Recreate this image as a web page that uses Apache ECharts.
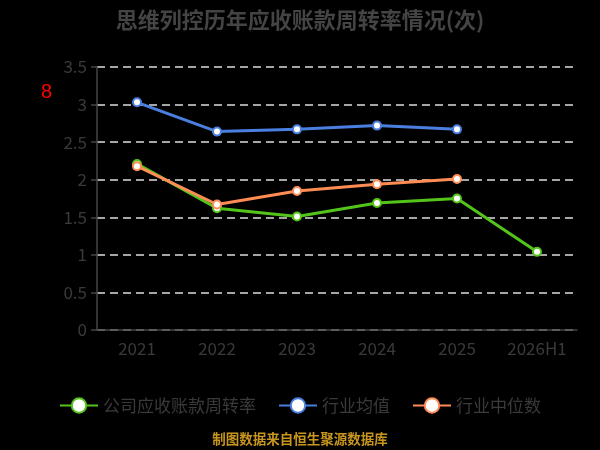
<!DOCTYPE html>
<html>
<head>
<meta charset="utf-8">
<script src="https://cdn.jsdelivr.net/npm/echarts@6/dist/echarts.min.js"></script>
<style>
  html, body { margin: 0; padding: 0; background: #000; }
  #main { width: 600px; height: 450px; }
</style>
</head>
<body>
<div id="main"></div>
<script>
// 数据
var years = ['2021', '2022', '2023', '2024', '2025', '2026H1'];
var companyRate = [2.21, 1.62, 1.51, 1.69, 1.75, 1.04];
var industryAvg = [3.03, 2.64, 2.67, 2.72, 2.67];
var industryMedian = [2.18, 1.67, 1.85, 1.94, 2.01];
var yTicks = [0, 0.5, 1, 1.5, 2, 2.5, 3, 3.5];

var chart = echarts.init(document.getElementById('main'));

var font = '"Noto Sans CJK SC", "Noto Sans", sans-serif';

function lineSeries(name, data, color) {
    return {
        name: name,
        type: 'line',
        data: data,
        symbol: 'circle',
        symbolSize: 8,
        lineStyle: { color: color, width: 3 },
        itemStyle: { color: '#fff', borderColor: color, borderWidth: 2 }
    };
}

var option = {
    backgroundColor: '#000',
    textStyle: { fontFamily: font },
    title: {
        text: '思维列控历年应收账款周转率情况(次)',
        left: 'center',
        top: 4,
        textStyle: { color: '#444', fontSize: 22, fontWeight: 'bold', fontFamily: font }
    },
    graphic: [
        {
            type: 'text',
            left: 41,
            top: 82,
            style: { text: '8', fill: '#f00', font: '20px sans-serif' }
        },
        {
            type: 'text',
            left: 'center',
            top: 432,
            style: { text: '制图数据来自恒生聚源数据库', fill: '#c8961e', font: 'bold 13.5px "Noto Sans CJK SC"' }
        }
    ],
    legend: {
        top: 392,
        left: 'center',
        itemWidth: 38,
        itemHeight: 18,
        itemGap: 22,
        textStyle: { color: '#3a3a3a', fontSize: 17, fontFamily: font },
        data: ['公司应收账款周转率', '行业均值', '行业中位数']
    },
    grid: { left: 97, right: 23, top: 67, bottom: 120 },
    xAxis: {
        type: 'category',
        data: years,
        axisLine: { lineStyle: { color: '#444', width: 1.5 } },
        axisTick: { lineStyle: { color: '#444', width: 1.5 }, length: 6 },
        axisLabel: { color: '#3a3a3a', fontSize: 17, margin: 10 }
    },
    yAxis: {
        type: 'value',
        min: yTicks[0],
        max: yTicks[yTicks.length - 1],
        interval: 0.5,
        axisLine: { show: true, lineStyle: { color: '#444', width: 1.5 } },
        axisTick: { show: true, lineStyle: { color: '#444', width: 1.5 }, length: 6 },
        axisLabel: { color: '#3a3a3a', fontSize: 17, margin: 10 },
        splitLine: { lineStyle: { color: '#ddd', type: [8, 5], width: 1.5 } }
    },
    series: [
        lineSeries('公司应收账款周转率', companyRate, '#52c41a'),
        lineSeries('行业均值', industryAvg, '#4a7fe0'),
        lineSeries('行业中位数', industryMedian, '#ff8c55')
    ]
};

chart.setOption(option);
</script>
</body>
</html>
